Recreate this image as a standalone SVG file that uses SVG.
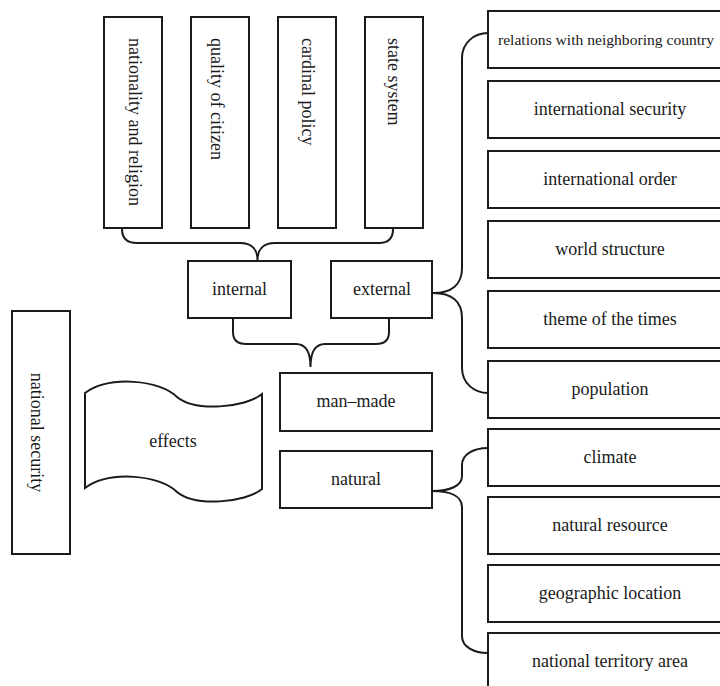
<svg xmlns="http://www.w3.org/2000/svg" width="720" height="686" viewBox="0 0 720 686">
  <style>
    .box { fill: #fff; stroke: #1a1a1a; stroke-width: 2; }
    .link { fill: none; stroke: #1a1a1a; stroke-width: 2; stroke-linecap: round; }
    text { font-family: "Liberation Serif", "Times New Roman", serif; font-size: 18px; fill: #1a1a1a; }
    .c { text-anchor: middle; }
  </style>
  <rect width="720" height="686" fill="#fff"/>

  <!-- braces connecting the levels -->
  <g id="connectors">
    <path class="link" d="M122,229 Q122,243 137,243 L240,243 C252,243 257.5,250 257.5,260 C257.5,250 263,243 275,243 L379,243 Q393,243 393,229"/>
    <path class="link" d="M233,319 L233,332 Q233,344 246,344 L296,344 C306,344 310.5,353 310.5,367 C310.5,353 315,344 325,344 L376,344 Q389,344 389,332 L389,319"/>
    <path class="link" d="M433,293 C451,293 462,285 462,268 L462,58 C462,43 474,33 488,33"/>
    <path class="link" d="M433,293 C451,293 462,301 462,318 L462,368 C462,383 474,393 488,393"/>
    <path class="link" d="M432,491 C450,491 462,486 462,476 L462,465 C462,454 474,448 488,448"/>
    <path class="link" d="M432,491 C450,491 462,496 462,507 L462,636 C462,647 474,653 488,653"/>
  </g>

  <!-- internal factors (vertical boxes) -->
  <g id="nationality-religion">
    <rect class="box" x="104" y="17" width="58" height="211"/>
    <text transform="translate(129,38) rotate(90)">nationality and religion</text>
  </g>
  <g id="quality-citizen">
    <rect class="box" x="191" y="17" width="58" height="211"/>
    <text transform="translate(211,38) rotate(90)">quality of citizen</text>
  </g>
  <g id="cardinal-policy">
    <rect class="box" x="278" y="17" width="58" height="211"/>
    <text transform="translate(302,38) rotate(90)">cardinal policy</text>
  </g>
  <g id="state-system">
    <rect class="box" x="365" y="17" width="58" height="211"/>
    <text transform="translate(388,38) rotate(90)">state system</text>
  </g>

  <g id="internal">
    <rect class="box" x="188" y="261" width="103" height="57"/>
    <text class="c" x="239.5" y="295">internal</text>
  </g>
  <g id="external">
    <rect class="box" x="331" y="261" width="101" height="57"/>
    <text class="c" x="382" y="295">external</text>
  </g>

  <g id="man-made">
    <rect class="box" x="280" y="373" width="152" height="58"/>
    <text class="c" x="356" y="407">man–made</text>
  </g>
  <g id="natural">
    <rect class="box" x="280" y="451" width="152" height="57"/>
    <text class="c" x="356" y="485">natural</text>
  </g>

  <g id="national-security">
    <rect class="box" x="12" y="311" width="58" height="243"/>
    <text class="c" transform="translate(31,432.5) rotate(90)">national security</text>
  </g>

  <g id="effects">
    <path class="box" d="M85,393 C110,375 160,380 177,397 C195,412 245,408 262,394 L262,489 C245,503 195,507 177,492 C160,475 110,470 85,488 Z"/>
    <text class="c" x="173" y="447">effects</text>
  </g>

  <!-- external factors -->
  <g id="neighboring-relations">
    <rect class="box" x="488" y="11" width="244" height="57"/>
    <text x="498" y="45" style="font-size:15.6px">relations with neighboring country</text>
  </g>
  <g id="international-security">
    <rect class="box" x="488" y="81" width="244" height="57"/>
    <text class="c" x="610" y="115">international security</text>
  </g>
  <g id="international-order">
    <rect class="box" x="488" y="151" width="244" height="57"/>
    <text class="c" x="610" y="185">international order</text>
  </g>
  <g id="world-structure">
    <rect class="box" x="488" y="221" width="244" height="57"/>
    <text class="c" x="610" y="255">world structure</text>
  </g>
  <g id="theme-times">
    <rect class="box" x="488" y="291" width="244" height="57"/>
    <text class="c" x="610" y="325">theme of the times</text>
  </g>
  <g id="population">
    <rect class="box" x="488" y="361" width="244" height="57"/>
    <text class="c" x="610" y="395">population</text>
  </g>

  <!-- natural factors -->
  <g id="climate">
    <rect class="box" x="488" y="429" width="244" height="57"/>
    <text class="c" x="610" y="463">climate</text>
  </g>
  <g id="natural-resource">
    <rect class="box" x="488" y="497" width="244" height="57"/>
    <text class="c" x="610" y="531">natural resource</text>
  </g>
  <g id="geographic-location">
    <rect class="box" x="488" y="565" width="244" height="57"/>
    <text class="c" x="610" y="599">geographic location</text>
  </g>
  <g id="territory-area">
    <rect class="box" x="488" y="633" width="244" height="57"/>
    <text class="c" x="610" y="667">national territory area</text>
  </g>
</svg>
